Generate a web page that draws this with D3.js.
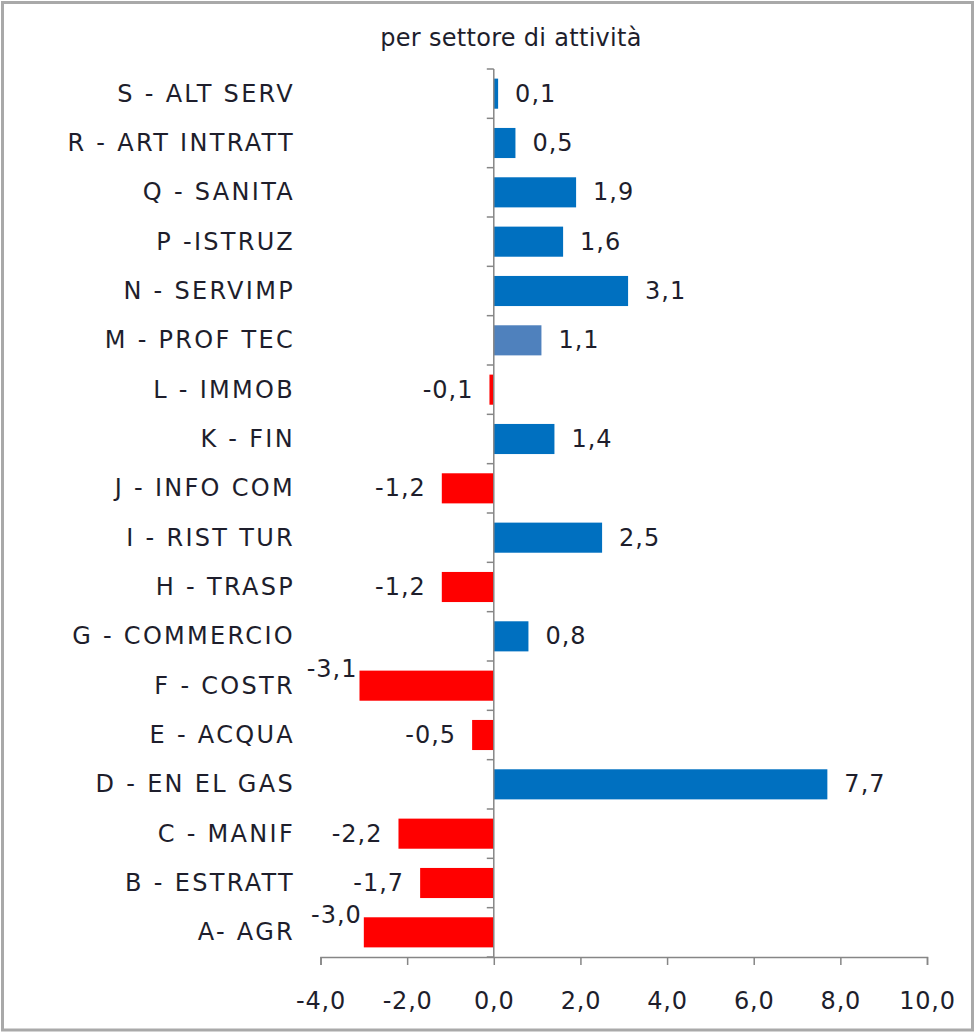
<!DOCTYPE html>
<html>
<head>
<meta charset="utf-8">
<script src="https://cdn.jsdelivr.net/npm/d3@7"></script>
<style>
  html, body { margin: 0; padding: 0; background: #fff; }
  svg { display: block; }
  text { font-family: "DejaVu Sans", Verdana, sans-serif; fill: #1e1e2c; }
</style>
</head>
<body>
<script>
// ---- data ----
const title = "per settore di attività";
const categories = [
  "S - ALT SERV", "R - ART INTRATT", "Q - SANITA", "P -ISTRUZ", "N - SERVIMP",
  "M - PROF TEC", "L - IMMOB", "K - FIN", "J - INFO COM", "I - RIST TUR",
  "H - TRASP", "G - COMMERCIO", "F - COSTR", "E - ACQUA", "D - EN EL GAS",
  "C - MANIF", "B - ESTRATT", "A- AGR"
];
const values = [0.1, 0.5, 1.9, 1.6, 3.1, 1.1, -0.1, 1.4, -1.2, 2.5, -1.2, 0.8, -3.1, -0.5, 7.7, -2.2, -1.7, -3.0];
const highlighted = ["M - PROF TEC"];
const xTicks = [-4, -2, 0, 2, 4, 6, 8, 10];
const xDomain = [-4, 10];

// ---- layout ----
const W = 976, H = 1034;
const plot = { left: 320.5, right: 927, top: 69, bottom: 957 };
const colPos = "#0070C0", colNeg = "#FF0000", colHi = "#4F81BD";
const axisCol = "#868686";

const locale = d3.formatLocale({ decimal: ",", thousands: ".", grouping: [3], currency: ["", "€"], minus: "-" });
const fmt = locale.format(".1f");

const svg = d3.select("body").append("svg").attr("width", W).attr("height", H);

svg.append("rect").attr("x", 2.5).attr("y", 2.5).attr("width", 970).attr("height", 1027.5)
  .attr("fill", "#fff").attr("stroke", "#a9a9a9").attr("stroke-width", 3);

const x = d3.scaleLinear().domain(xDomain).range([plot.left, plot.right]);
const y = d3.scaleBand().domain(categories).range([plot.top, plot.bottom]).paddingInner(0.39).paddingOuter(0.195);
const yb = d3.scaleBand().domain(categories).range([plot.top, plot.bottom]);

svg.append("text").attr("x", 511).attr("y", 38).attr("text-anchor", "middle")
  .attr("dominant-baseline", "central").style("font-size", "24px").style("letter-spacing", "0.3px").text(title);

const data = categories.map((c, i) => ({ c, v: values[i] }));

// bars
svg.append("g").selectAll("rect").data(data).join("rect")
  .attr("x", d => x(Math.min(0, d.v)))
  .attr("width", d => Math.abs(x(d.v) - x(0)))
  .attr("y", d => y(d.c))
  .attr("height", y.bandwidth())
  .attr("fill", d => highlighted.includes(d.c) ? colHi : (d.v < 0 ? colNeg : colPos));

// x axis
const gx = svg.append("g").attr("transform", `translate(0,${plot.bottom})`)
  .call(d3.axisBottom(x).tickValues(xTicks).tickFormat(fmt).tickSize(8).tickPadding(27));
gx.select(".domain").attr("stroke", axisCol).attr("stroke-width", 1.5);
gx.selectAll(".tick line").attr("stroke", axisCol).attr("stroke-width", 1.5);
gx.selectAll(".tick text").style("font-size", "24px").style("letter-spacing", "0.8px")
  .attr("fill", "#1e1e2c").attr("font-family", null);

// y axis (vertical line at 0, ticks at band boundaries)
const zx = x(0);
svg.append("line").attr("x1", zx).attr("x2", zx).attr("y1", plot.top).attr("y2", plot.bottom)
  .attr("stroke", axisCol).attr("stroke-width", 1.5);
const bounds = categories.map(c => yb(c)).concat([plot.bottom]);
svg.append("g").selectAll("line").data(bounds).join("line")
  .attr("x1", zx - 7).attr("x2", zx).attr("y1", d => d).attr("y2", d => d)
  .attr("stroke", axisCol).attr("stroke-width", 1.5);

// category labels
svg.append("g").selectAll("text").data(categories).join("text")
  .attr("x", 295).attr("y", c => yb(c) + yb.bandwidth() / 2)
  .attr("text-anchor", "end").attr("dominant-baseline", "central")
  .style("font-size", "24px").style("letter-spacing", "2.3px")
  .text(c => c);

// value labels
const vl = svg.append("g").selectAll("text").data(data).join("text")
  .attr("dominant-baseline", "central").style("font-size", "24px").style("letter-spacing", "1px")
  .text(d => fmt(d.v));
vl.each(function(d) {
  const t = d3.select(this);
  const cy = yb(d.c) + yb.bandwidth() / 2;
  const w = this.getComputedTextLength();
  if (d.v >= 0) {
    t.attr("x", x(d.v) + 17).attr("y", cy).attr("text-anchor", "start");
  } else {
    const end = x(d.v) - 16;
    if (end - w < plot.left) {
      t.attr("x", x(d.v) - 2).attr("y", cy - 17).attr("text-anchor", "end");
    } else {
      t.attr("x", end).attr("y", cy).attr("text-anchor", "end");
    }
  }
});
</script>
</body>
</html>
